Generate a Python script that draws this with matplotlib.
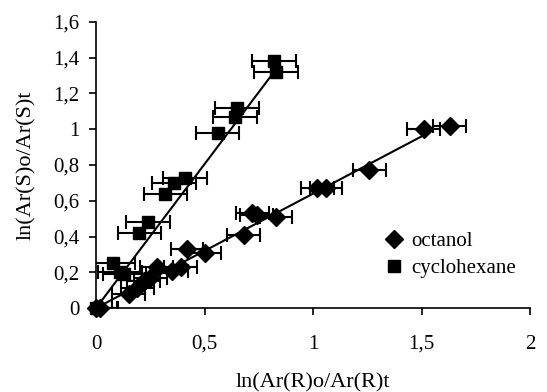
import numpy as np
import matplotlib
matplotlib.use("Agg")
import matplotlib.pyplot as plt
from matplotlib.ticker import FuncFormatter

# --- data ---------------------------------------------------------------------
oct_x = [0.0, 0.02, 0.15, 0.19, 0.22, 0.25, 0.28, 0.35, 0.39, 0.42, 0.50,
         0.68, 0.72, 0.74, 0.83, 1.02, 1.06, 1.26, 1.51, 1.63]
oct_y = [0.0, 0.0, 0.08, 0.11, 0.15, 0.17, 0.23, 0.21, 0.23, 0.33, 0.31,
         0.41, 0.53, 0.52, 0.51, 0.67, 0.67, 0.77, 1.00, 1.02]
oct_xerr = 0.075

cyc_x = [0.0, 0.08, 0.11, 0.13, 0.20, 0.24, 0.32, 0.36, 0.41, 0.56,
         0.64, 0.65, 0.82, 0.83]
cyc_y = [0.0, 0.25, 0.20, 0.19, 0.42, 0.48, 0.64, 0.70, 0.73, 0.98,
         1.07, 1.12, 1.38, 1.32]
cyc_xerr = 0.1

# trend lines (slope, intercept, x-range)
oct_fit = (0.64, 0.0)
oct_span = (0.0, 1.51)
cyc_fit = (1.61, 0.0)
cyc_span = (0.0, 0.83)

x_ticks = [0, 0.5, 1, 1.5, 2]
y_ticks = [0, 0.2, 0.4, 0.6, 0.8, 1.0, 1.2, 1.4, 1.6]

plt.rcParams["font.family"] = ["Liberation Serif", "DejaVu Serif"]

fig = plt.figure(figsize=(5.47, 3.92), dpi=100)
ax = fig.add_axes([0.1755, 0.214, 0.7935, 0.73])

ax.errorbar(oct_x, oct_y, xerr=oct_xerr, fmt="none", ecolor="black",
            elinewidth=1.5, capsize=5, capthick=1.5, zorder=2)
ax.errorbar(cyc_x, cyc_y, xerr=cyc_xerr, fmt="none", ecolor="black",
            elinewidth=1.5, capsize=5, capthick=1.5, zorder=2)

for (m, b), (x0, x1) in [(oct_fit, oct_span), (cyc_fit, cyc_span)]:
    xs = np.array([x0, x1])
    ax.plot(xs, m * xs + b, color="black", lw=1.5, zorder=3)

ax.plot(oct_x, oct_y, ls="none", marker="D", ms=9, color="black",
        label="octanol", zorder=4, clip_on=False)
ax.plot(cyc_x, cyc_y, ls="none", marker="s", ms=9, color="black",
        label="cyclohexane", zorder=4, clip_on=False)

ax.set_xlim(0, 2)
ax.set_ylim(0, 1.6)
ax.set_xticks(x_ticks)
ax.set_yticks(y_ticks)
comma = FuncFormatter(lambda v, p: f"{v:g}".replace(".", ","))
ax.xaxis.set_major_formatter(comma)
ax.yaxis.set_major_formatter(comma)
ax.tick_params(direction="out", length=5, width=1.2, labelsize=15, pad=7)
ax.tick_params(axis="x", pad=14)
for s in ["top", "right"]:
    ax.spines[s].set_visible(False)
for s in ["left", "bottom"]:
    ax.spines[s].set_linewidth(1.2)

ax.set_xlabel("ln(Ar(R)o/Ar(R)t", fontsize=16, labelpad=14)
ax.set_ylabel("ln(Ar(S)o/Ar(S)t", fontsize=16, labelpad=12)

ax.legend(loc="lower right", bbox_to_anchor=(1.01, 0.04), frameon=False,
          fontsize=15, handlelength=0.8, handletextpad=0.4, labelspacing=0.35)

fig.savefig("out.png", dpi=100)
